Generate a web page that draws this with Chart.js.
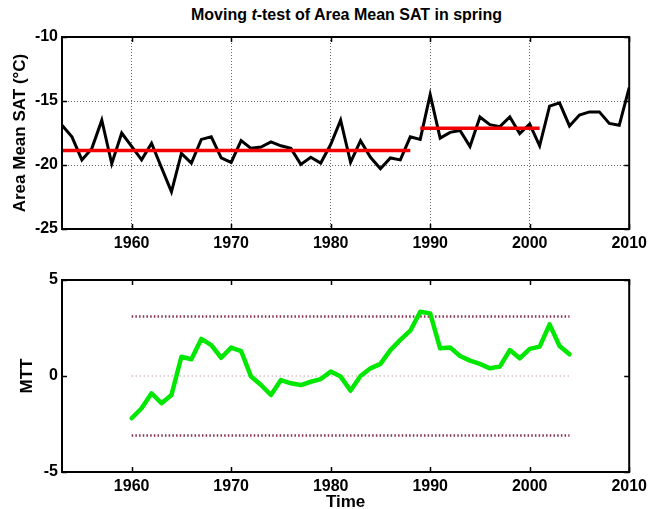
<!DOCTYPE html>
<html>
<head>
<meta charset="utf-8">
<script src="https://cdn.jsdelivr.net/npm/chart.js@4/dist/chart.umd.min.js"></script>
<style>
  html, body { margin: 0; padding: 0; background: #fff; overflow: hidden; }
  #wrap { position: relative; width: 652px; height: 509px; background: #fff; }
  #title { position: absolute; top: 5px; left: 62px; width: 569px; text-align: center;
           font: bold 16px "Liberation Sans", Arial, sans-serif; color: #000; line-height: 20px; }
  canvas { position: absolute; left: 0; }
</style>
</head>
<body>
<div id="wrap">
  <div id="title">Moving <i>t</i>-test of Area Mean SAT in spring</div>
  <canvas id="c1" width="652" height="250" style="top:0px"></canvas>
  <canvas id="c2" width="652" height="259" style="top:250px"></canvas>
</div>
<script>
// ---------------- data ----------------
const satYears = [1953,1954,1955,1956,1957,1958,1959,1960,1961,1962,1963,1964,1965,1966,1967,1968,1969,1970,
  1971,1972,1973,1974,1975,1976,1977,1978,1979,1980,1981,1982,1983,1984,1985,1986,1987,1988,1989,1990,
  1991,1992,1993,1994,1995,1996,1997,1998,1999,2000,2001,2002,2003,2004,2005,2006,2007,2008,2009,2010];
const satValues = [-16.9,-17.8,-19.6,-18.7,-16.5,-19.9,-17.5,-18.55,-19.6,-18.3,-20.2,-22.1,-19.1,-19.85,-18.0,-17.8,-19.45,-19.8,
  -18.1,-18.7,-18.6,-18.2,-18.5,-18.7,-19.95,-19.4,-19.85,-18.4,-16.5,-19.8,-18.1,-19.4,-20.3,-19.45,-19.6,-17.8,-18.0,-14.5,
  -17.9,-17.45,-17.3,-18.55,-16.25,-16.85,-17.0,-16.25,-17.55,-16.8,-18.5,-15.4,-15.15,-16.95,-16.1,-15.85,-15.85,-16.75,-16.9,-13.95];
const meanBefore = { from: 1953, to: 1988, value: -18.86 };
const meanAfter  = { from: 1989, to: 2001, value: -17.12 };

const mttYears = [1960,1961,1962,1963,1964,1965,1966,1967,1968,1969,1970,1971,1972,1973,1974,1975,1976,1977,1978,1979,1980,
  1981,1982,1983,1984,1985,1986,1987,1988,1989,1990,1991,1992,1993,1994,1995,1996,1997,1998,1999,2000,2001,2002,2003,2004];
const mttValues = [-2.2,-1.68,-0.9,-1.42,-0.99,1.0,0.87,1.93,1.61,0.95,1.48,1.3,-0.03,-0.47,-0.99,-0.21,-0.38,-0.47,-0.3,-0.16,0.23,
  -0.03,-0.76,0.0,0.4,0.63,1.35,1.88,2.36,3.35,3.26,1.44,1.49,1.04,0.8,0.63,0.4,0.49,1.35,0.92,1.41,1.53,2.69,1.56,1.13];
const critical = 3.1;
const refSpan = [1960, 2004];

const xTicks = [1960, 1970, 1980, 1990, 2000, 2010];
const satTicks = [-25, -20, -15, -10];
const mttTicks = [-5, 0, 5];
const xRange = [1953, 2010];
const satRange = [-25, -10];
const mttRange = [-5, 5];

// ---------------- helpers ----------------
const FONT = '"Liberation Sans", Arial, sans-serif';
const tickFont = { family: FONT, size: 16, weight: 'bold' };
const titleFont = { family: FONT, size: 17, weight: 'bold', lineHeight: 1 };
const pts = (xs, ys) => xs.map((x, i) => ({ x: x, y: ys[i] }));
const hline = (a, b, v) => [{ x: a, y: v }, { x: b, y: v }];

const framePlugin = {
  id: 'frame',
  afterDraw(chart) {
    const { ctx, chartArea: a, scales } = chart;
    ctx.save();
    ctx.strokeStyle = '#000';
    ctx.lineWidth = 1.5;
    const L = 5;
    ctx.beginPath();
    scales.x.ticks.forEach(t => {
      const px = Math.round(scales.x.getPixelForValue(t.value)) + 0.5;
      ctx.moveTo(px, a.bottom); ctx.lineTo(px, a.bottom - L);
      ctx.moveTo(px, a.top); ctx.lineTo(px, a.top + L);
    });
    scales.y.ticks.forEach(t => {
      const py = Math.round(scales.y.getPixelForValue(t.value)) + 0.5;
      ctx.moveTo(a.left, py); ctx.lineTo(a.left + L, py);
      ctx.moveTo(a.right, py); ctx.lineTo(a.right - L, py);
    });
    ctx.stroke();
    ctx.lineWidth = 2;
    ctx.strokeRect(a.left, a.top, a.right - a.left, a.bottom - a.top);
    ctx.restore();
  }
};

function xScale(height, showGrid, title) {
  return {
    type: 'linear', min: xRange[0], max: xRange[1],
    afterBuildTicks(s) { s.ticks = xTicks.map(v => ({ value: v })); },
    afterFit(s) { s.height = height; },
    grid: { display: showGrid, drawTicks: false, color: '#666', lineWidth: 1 },
    border: { display: false, dash: [1, 2] },
    ticks: { font: tickFont, color: '#000', padding: 5, maxRotation: 0, autoSkip: false,
             callback: v => String(v) },
    title: title ? { display: true, text: title, font: titleFont, color: '#000', padding: { top: 0, bottom: -2 } }
                 : { display: false }
  };
}
function yScale(range, ticksArr, showGrid, title, titlePad) {
  return {
    type: 'linear', min: range[0], max: range[1],
    afterBuildTicks(s) { s.ticks = ticksArr.map(v => ({ value: v })); },
    afterFit(s) { s.width = 62; },
    grid: { display: showGrid, drawTicks: false, color: '#666', lineWidth: 1 },
    border: { display: false, dash: [1, 2] },
    ticks: { font: tickFont, color: '#000', padding: 4, callback: v => String(v) },
    title: { display: true, text: title, font: titleFont, color: '#000', padding: { top: titlePad, bottom: 0 } }
  };
}
const common = {
  responsive: false, animation: false, devicePixelRatio: 1,
  plugins: { legend: { display: false }, tooltip: { enabled: false }, title: { display: false } },
  elements: { point: { radius: 0 }, line: { tension: 0 } }
};

// ---------------- top chart ----------------
new Chart(document.getElementById('c1'), {
  type: 'line',
  data: {
    datasets: [
      { data: hline(meanBefore.from, meanBefore.to, meanBefore.value), borderColor: '#f00000', borderWidth: 3.5 },
      { data: hline(meanAfter.from, meanAfter.to, meanAfter.value), borderColor: '#f00000', borderWidth: 3.5 },
      { data: pts(satYears, satValues), borderColor: '#000', borderWidth: 3, borderJoinStyle: 'miter' }
    ]
  },
  options: Object.assign({}, common, {
    layout: { padding: { top: 37, right: 21, left: 0, bottom: 0 } },
    scales: {
      x: xScale(21, true, null),
      y: yScale(satRange, satTicks, true, 'Area Mean SAT (\u00B0C)', 12)
    }
  }),
  plugins: [framePlugin]
});

// ---------------- bottom chart ----------------
new Chart(document.getElementById('c2'), {
  type: 'line',
  data: {
    datasets: [
      { data: pts(mttYears, mttValues), borderColor: '#00e800', borderWidth: 4.5, borderJoinStyle: 'round', borderCapStyle: 'round' },
      { data: hline(refSpan[0], refSpan[1], critical), borderColor: '#8a3050', borderWidth: 2.5, borderDash: [1.5, 2.2] },
      { data: hline(refSpan[0], refSpan[1], -critical), borderColor: '#8a3050', borderWidth: 2.5, borderDash: [1.5, 2.2] },
      { data: hline(refSpan[0], refSpan[1], 0), borderColor: '#9a7080', borderWidth: 1, borderDash: [1, 3] }
    ]
  },
  options: Object.assign({}, common, {
    layout: { padding: { top: 30, right: 21, left: 0, bottom: 0 } },
    scales: {
      x: xScale(37, false, 'Time'),
      y: yScale(mttRange, mttTicks, false, 'MTT', 19)
    }
  }),
  plugins: [framePlugin]
});
</script>
</body>
</html>
